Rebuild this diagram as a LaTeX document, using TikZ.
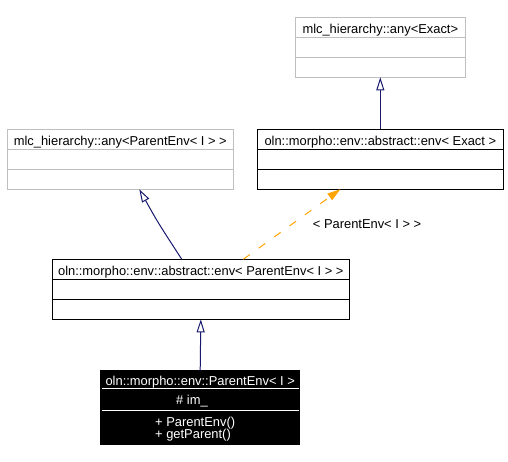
\documentclass[tikz,border=0pt]{standalone}
\usepackage{fontspec}
\setmainfont{Liberation Sans}
\usetikzlibrary{positioning}
\usetikzlibrary{arrows.meta}
\usetikzlibrary{calc}
\definecolor{boxgray}{RGB}{191,191,191}
\definecolor{inheritblue}{RGB}{25,25,112}
\definecolor{templateorange}{RGB}{255,165,0}
\tikzstyle{graybox}=[rectangle,draw=boxgray,line width=1pt,inner sep=0pt,outer sep=0pt,minimum height=60pt]
\tikzstyle{blackbox}=[rectangle,draw=black,line width=1pt,inner sep=0pt,outer sep=0pt,minimum height=60pt]
\tikzstyle{darkbox}=[rectangle,draw=black,fill=black,line width=1pt,inner sep=0pt,outer sep=0pt]
\tikzstyle{boxtext}=[anchor=base,inner sep=0pt,font=\fontsize{12.9}{14}\selectfont]
\tikzstyle{inherit}=[draw=inheritblue,line width=1pt,-{Triangle[open,length=13pt,width=8pt]}]
\tikzstyle{template}=[draw=templateorange,line width=1pt,dash pattern=on 8pt off 11pt,-{Triangle[length=13pt,width=8pt,fill=templateorange]}]
\begin{document}
\begin{tikzpicture}[x=1pt,y=-1pt]
\useasboundingbox[fill=white] (0,0) rectangle (508,462);

%boxes
    \node[graybox,minimum width=170pt] (anyexact) at (380.3,47.3) {};
    \node[graybox,minimum width=226pt] (anyparent) at (120.3,159.3) {};
    \node[blackbox,minimum width=246pt] (envexact) at (380.3,159.3) {};
    \node[blackbox,minimum width=297pt] (envparent) at (200.8,289.3) {};
    \node[darkbox,minimum width=199pt,minimum height=73.6pt] (parentenv) at (200.2,407.5) {};

    \foreach \name/\col in {anyexact/boxgray, anyparent/boxgray, envexact/black, envparent/black}
        \foreach \dy in {20,40}
            \draw[\col,line width=1pt] ($(\name.north west)+(0,\dy)$) -- ($(\name.north east)+(0,\dy)$);
    \foreach \dy in {17.6,39.3}
        \draw[white,line width=1pt] ($(parentenv.north west)+(1,\dy)$) -- ($(parentenv.north east)+(-1,\dy)$);

%texts
    \node[boxtext] (anyexacttitle) at ($(anyexact.north)+(0,16)$) {mlc\_hierarchy::any<Exact>};
    \node[boxtext] (anyparenttitle) at ($(anyparent.north)+(0,16)$) {mlc\_hierarchy::any<ParentEnv< I > >};
    \node[boxtext] (envexacttitle) at ($(envexact.north)+(0,16)$) {oln::morpho::env::abstract::env< Exact >};
    \node[boxtext] (envparenttitle) at ($(envparent.north)+(0,16)$) {oln::morpho::env::abstract::env< ParentEnv< I > >};
    \node[boxtext,white] (parentenvtitle) at ($(parentenv.north)+(0,15)$) {oln::morpho::env::ParentEnv< I >};
    \node[boxtext,white,anchor=base west] (imattr) at (176,404.3) {\# im\_};
    \node[boxtext,white,anchor=base west] (ctor) at (155,426.5) {+ ParentEnv()};
    \node[boxtext,white,anchor=base west] (getparent) at (155,438) {+ getParent()};
    \node[boxtext,anchor=base west] (templatelabel) at (312.7,228.3) {< ParentEnv< I > >};

%edges
    \coordinate (envparentleft) at ([xshift=-19pt]envparent.north);
    \coordinate (anyparentfoot) at ([xshift=19pt]anyparent.south);
    \draw[inherit] (envexact.north) -- (anyexact.south);
    \draw[inherit] (parentenv.north) -- (envparent.south);
    \draw[inherit] (envparentleft) .. controls ($(envparentleft)!0.5!(anyparentfoot)+(-2.5,-1.5)$) .. (anyparentfoot);
    \draw[template] ([xshift=42.5pt]envparent.north) -- ([xshift=-40pt]envexact.south);

\end{tikzpicture}
\end{document}
